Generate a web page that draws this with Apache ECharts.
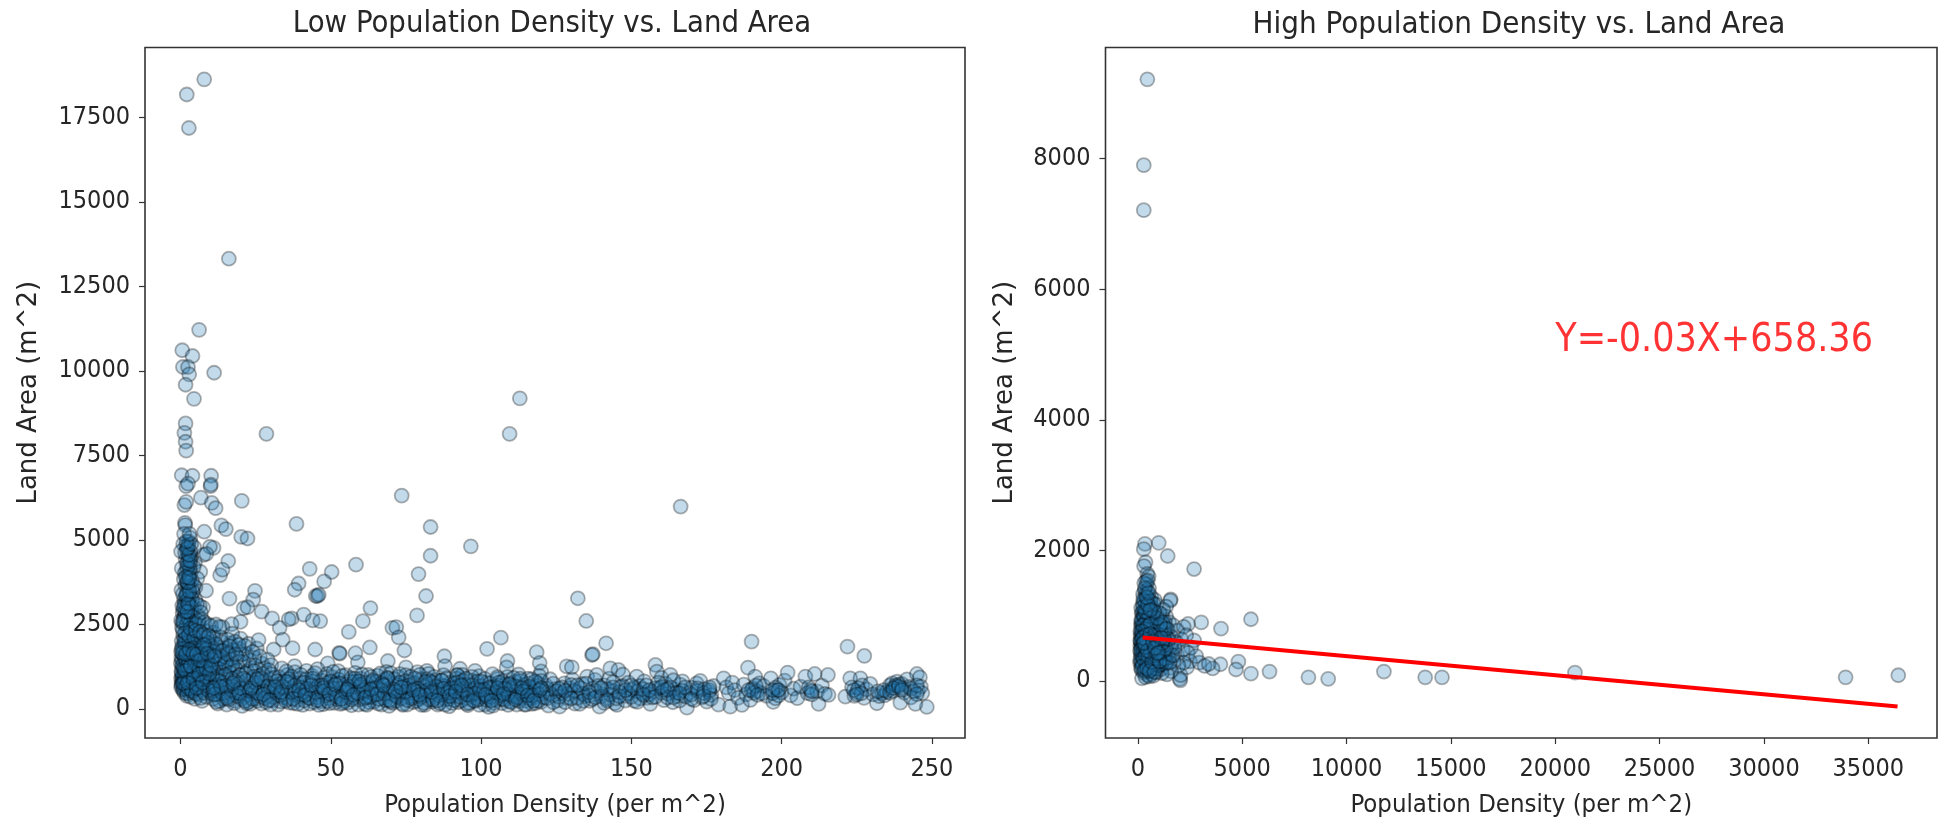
<!DOCTYPE html>
<html><head><meta charset="utf-8">
<style>html,body{margin:0;padding:0;background:#fff}#c{width:1939px;height:820px;filter:blur(0.45px)}</style>
<script src="https://cdn.jsdelivr.net/npm/echarts@6/dist/echarts.min.js"></script>
</head><body><div id="c"></div>
<script>
const titles = ["Low Population Density vs. Land Area", "High Population Density vs. Land Area"];
const xName = "Population Density (per m^2)";
const yName = "Land Area (m^2)";
const lowXTicks = [0, 50, 100, 150, 200, 250];
const lowYTicks = [0, 2500, 5000, 7500, 10000, 12500, 15000, 17500];
const highXTicks = [0, 5000, 10000, 15000, 20000, 25000, 30000, 35000];
const highYTicks = [0, 2000, 4000, 6000, 8000];
const fitLabel = "Y=-0.03X+658.36";
const fitLine = [[230, 665], [36400, -390]];
const fitLabelAt = [[20000, 5000]];

const lowOutliers = [[7.9,18626],[2.1,18177],[2.8,17187],[16.1,13320],[6.2,11216],[0.6,10612],[4,10442],[0.8,10117],[2.5,10117],[2.9,9900],[11.2,9947],[1.7,9591],[4.5,9174],[112.9,9190],[1.7,8447],[28.6,8137],[109.5,8137],[1.3,8168],[1.7,7905],[1.9,7642],[166.4,5987],[73.6,6312],[0.4,6915],[4,6900],[10.2,6900],[1.9,6590],[10,6590],[10.1,6640],[2.5,6667],[6.8,6250],[20.4,6157],[10.4,6095],[11.7,5940],[1.3,6033],[1.9,6126],[13.6,5430],[15.1,5322],[1.5,5507],[1.6,5440],[7.9,5244],[20.2,5090],[22.3,5043],[38.6,5476],[83.2,5383],[96.6,4811],[83.2,4533],[58.4,4270],[43,4146],[50.3,4053],[47.8,3775],[79.2,3991],[39.3,3713],[38,3527],[45,3342],[45.6,3342],[46,3380],[81.7,3342],[132.2,3275],[135,2604],[63.2,2986],[60.7,2599],[78.7,2769],[24.8,3496],[24.2,3233],[16.3,3264],[13.2,3960],[15.9,4378],[14,4120],[11,4765],[9.8,4800],[7.7,4560],[8.6,4590],[4.8,4330],[6.6,4060],[3.2,4300],[8.5,3500],[7.5,3000],[21,2980],[22.3,3010],[27,2880],[30.5,2680],[37,2680],[36,2650],[41,2790],[44,2620],[46.5,2600],[33,2400],[34,2050],[37.3,1800],[44.8,1760],[52.8,1660],[53,1640],[58.2,1650],[56,2280],[63,1820],[70.5,2400],[71.8,2420],[72.6,2120],[74.5,1730],[69,1420],[75,1230],[87.8,1560],[88,1270],[102,1780],[106.6,2110],[108.8,1420],[108.5,1230],[118.5,1680],[119.5,1360],[120,1110],[128.5,1260],[141.6,1944],[136.9,1598],[137.2,1620],[130.2,1234],[190,1993],[188.8,1224],[221.9,1845],[227.5,1569],[248.3,60],[93,1190],[98,1130],[20,2580],[17,2510],[31,1760],[38,1270],[49,1350],[59,1380],[68.5,1100],[82,1130],[92,1000]];

const lowCorner = [[0.2,900],[0.3,760],[0.4,1050],[0.2,640],[0.6,820],[0.8,560],[0.5,1240],[1,700],[1.1,950],[1.3,480],[1.4,1120],[1.6,610],[1.8,830],[2,1010],[2.1,390],[2.3,720],[2.5,540],[2.7,900],[2.9,1180],[3.2,650],[3.4,360],[3.6,800],[3.9,1010],[4.1,500],[4.4,680],[4.8,300],[5,880],[5.3,1170],[5.6,590],[6,420],[6.3,760],[6.8,1000],[7.2,240],[7.5,560],[8.1,830],[8.6,360],[9,1140],[9.5,650],[10.2,480],[11,920],[0.1,1360],[0.3,1520],[0.2,1690],[0.6,1850],[0.4,2010],[0.9,2180],[1.1,1420],[1.3,1600],[1.5,1780],[1.7,1960],[2,2140],[2.3,2340],[2.6,1500],[2.8,1690],[3.1,1880],[3.4,2060],[3.7,2260],[4,2460],[4.3,1380],[4.7,1600],[5,1820],[5.4,2020],[5.8,2240],[6.2,2480],[6.6,1340],[7,1540],[7.5,1780],[8,2030],[8.4,2300],[9,1290],[9.4,1520],[10,1750],[10.6,1990],[11,2260],[11.8,1230],[12.4,1460],[13,1700],[13.6,1980],[14,2420],[14.8,1160],[15.4,1420],[16,1680],[16.6,1940],[17.2,2230],[18,1250],[18.8,1510],[19.5,1780],[20,2080],[21,1390],[21.8,1640],[22.6,1930],[23.4,1210],[24.6,1520],[25.4,1790],[26,2040],[27.2,1340],[0.5,2400],[0.2,2620],[0.7,2840],[1,2540],[0.6,3060],[1.2,3240],[0.3,3520],[1.5,2760],[1.8,2980],[2,3200],[2.2,3440],[1.6,3660],[2.4,3860],[1.9,4060],[2.7,2620],[3,2860],[3.2,3080],[3.5,3320],[3.8,3560],[3.1,3780],[3.4,4010],[2.6,4240],[4.2,2740],[4.6,3000],[4.9,3240],[5,3600],[1.7,4420],[2.3,4610],[3.6,4520],[1.8,4830],[2.8,4950],[3.3,5060],[1.2,5180],[0.9,4880],[0.2,4660],[4.6,4780],[0.4,4160],[5.8,2760],[6.4,3050],[7.2,2650],[5.6,3860],[4.4,4200],[3,4480],[1.4,4020],[2.4,3640],[2.9,3380],[1.1,3840]];

const lowCornerExtra = [[0.7,980],[0.9,1130],[1.2,860],[1.5,1010],[1.9,1240],[2.2,870],[2.6,1090],[3,760],[3.3,960],[3.7,1140],[4,610],[4.5,1060],[4.9,720],[5.5,980],[6,1120],[6.5,860],[7,1260],[7.8,700],[8.3,1050],[8.9,900],[9.6,1240],[10.4,760],[11.3,1080],[12,580],[0.5,1450],[0.8,1620],[1,1790],[1.3,1950],[1.6,2100],[1.9,1350],[2.2,1550],[2.5,1840],[2.9,2020],[3.2,1430],[3.6,1720],[3.9,1980],[4.2,2200],[4.5,1490],[4.9,1700],[5.2,1930],[5.6,1290],[6,1640],[6.4,1880],[6.9,2120],[7.3,1410],[7.8,1660],[8.2,1910],[8.7,2130],[9.2,1400],[9.7,1630],[10.3,1850],[10.9,2120],[11.5,1350],[12.1,1580],[12.7,1820],[13.4,2120],[14.1,1270],[14.7,1540],[15.2,1800],[15.8,2050],[16.3,1230],[17,1480],[17.5,1750],[18.2,1990],[19,1150],[19.8,1400],[20.6,1620],[21.4,1870],[22.2,1120],[23,1440],[24,1690],[25,1280],[26.4,1560],[28,1200],[29,1460],[30.2,1300],[0.6,2560],[1.2,2700],[0.9,2950],[1.4,3120],[1.7,3340],[0.8,3400],[2.1,2500],[2.4,2720],[2.5,3050],[2.7,3260],[2.9,3600],[3.2,2520],[3.5,2780],[3.7,3000],[3.9,3240],[4.1,3460],[2.1,3760],[2.8,3980],[2.2,4180],[3.1,4150],[2.5,4400],[3.3,4660],[2.1,4720],[2.6,4840],[1.5,4620],[3.8,3800],[4.4,3650],[4.7,2560],[5.2,2520],[5.5,3100],[6.1,2600],[6.8,2860],[8,2560],[9.2,2500],[10.2,2460],[11.8,2500],[13,2430]];

const lowCornerThird = [[0.4,700],[0.6,930],[1,590],[1.2,780],[1.5,900],[1.9,680],[2.2,460],[2.4,960],[2.8,610],[3.1,840],[3.5,1060],[3.8,540],[4.2,780],[4.6,960],[5.1,450],[5.4,740],[5.9,1000],[6.2,630],[6.7,330],[7.2,880],[7.9,480],[8.4,960],[9.2,560],[9.9,840],[10.8,420],[11.4,700],[12.3,1000],[0.3,1120],[0.7,1300],[1.1,1210],[1.4,1520],[1.8,1440],[2.1,1680],[2.4,1260],[2.7,1400],[3,1590],[3.5,1270],[3.8,1540],[4.1,1800],[4.4,1120],[4.8,1330],[5.1,1560],[5.5,1760],[5.9,1440],[6.3,1190],[6.7,1620],[7.1,1840],[7.6,1220],[8.1,1500],[8.6,1770],[9.1,1960],[9.8,1180],[10.5,1460],[11.1,1700],[11.8,1920],[12.6,1200],[13.3,1480],[14,1720],[14.9,1360],[15.6,1620],[16.4,1860],[17.3,1300],[18.4,1620],[19.4,1900],[0.4,1780],[1.2,2050],[0.8,2320],[1.6,2260],[2.7,2180],[3.3,2380],[4.6,2100],[5.1,2320],[6.5,2280],[7.7,2200],[9.5,2160],[0.9,2620],[1.6,2880],[1.2,3020],[2.3,2880],[2,3380],[2.6,3120],[3,3480],[2.4,3740],[1.8,3900],[2.9,3880],[2.2,4320],[3.2,4380],[2.8,4560],[2.4,4760],[3.6,4880],[2,4960],[3,5180]];

const lowBand = [[12.4,160],[12.8,430],[13.2,720],[13.8,960],[14.3,300],[14.9,590],[15.4,130],[15.9,860],[16.5,1060],[17,420],[17.6,680],[18.1,240],[18.7,940],[19.3,510],[19.9,770],[20.5,90],[21,360],[21.7,1050],[22.2,620],[22.8,210],[23.4,860],[24,470],[24.6,1120],[25.2,300],[25.8,700],[26.3,980],[26.9,160],[27.6,540],[28.2,840],[28.8,380],[29.4,1150],[30,640],[30.7,250],[31.3,930],[31.9,480],[32.5,130],[33,740],[33.7,1200],[34.3,340],[35,580],[35.6,1010],[36.2,190],[36.9,800],[37.5,450],[38.1,1090],[38.8,270],[39.4,650],[40,900],[40.7,120],[41.3,520],[41.9,1130],[42.5,340],[43.1,760],[43.8,980],[44.4,200],[45,600],[45.6,1180],[46.2,420],[46.9,840],[47.5,140],[48.1,700],[48.8,1040],[49.4,310],[50,550],[50.6,940],[51.3,180],[51.9,770],[52.5,1120],[53.1,440],[53.8,620],[54.4,230],[55,1000],[55.6,350],[56.2,820],[56.9,110],[57.5,560],[58.1,1070],[58.8,720],[59.4,280],[60,900],[60.6,470],[61.3,150],[61.9,640],[62.5,1010],[63.1,380],[63.8,800],[64.4,220],[65,520],[65.6,980],[66.3,690],[66.9,130],[67.5,330],[68.1,860],[68.8,580],[69.4,90],[70,1060],[70.6,440],[71.3,750],[71.9,240],[72.5,950],[73.1,540],[73.8,160],[74.4,680],[75,1000],[75.6,350],[76.3,810],[76.9,470],[77.5,200],[78.1,620],[78.8,1090],[79.4,290],[80,880],[80.6,530],[81.3,120],[81.9,710],[82.5,1040],[83.1,390],[83.8,220],[84.4,580],[85,850],[85.6,130],[86.3,460],[86.9,700],[87.5,1000],[88.1,280],[88.8,560],[89.4,80],[90,790],[90.6,380],[91.3,640],[91.9,900],[92.5,200],[93.1,490],[93.8,1010],[94.4,720],[95,310],[95.6,110],[96.3,590],[96.9,840],[97.5,430],[98.1,230],[98.8,680],[99.4,970],[100,370],[100.6,540],[101.3,130],[101.9,780],[102.5,60],[103.1,450],[103.8,1030],[104.4,660],[105,270],[105.6,890],[106.3,510],[106.9,170],[107.5,380],[108.1,740],[108.8,950],[109.4,230],[110,610],[110.6,420],[111.3,810],[111.9,130],[112.5,1020],[113.1,330],[113.8,540],[114.4,720],[115,240],[115.6,900],[116.3,450],[116.9,150],[117.5,640],[118.1,350],[118.8,770],[119.4,980],[120,210],[120.8,520],[121.6,690],[122.4,100],[123,880],[123.8,400],[124.6,590],[125.4,250],[126.1,70],[127,470],[127.7,760],[128.6,330],[129.5,620],[130.4,870],[131.2,160],[132.1,500],[132.8,150],[133.7,740],[134.6,380],[135.3,960],[136.2,240],[137,600],[137.9,860],[138.5,1007],[139.4,70],[140.1,450],[141,700],[141.8,310],[142.6,900],[143,1204],[143.8,540],[144.5,170],[145.2,120],[145.7,1155],[146.4,650],[147.2,1020],[148,390],[149,780],[150,570],[151,240],[151.8,960],[152.7,680],[153.5,470],[154.3,820],[155.1,330],[156.3,150],[157,510],[158,1303],[158.5,1105],[159.2,620],[160,920],[160.8,260],[161.4,750],[162.1,450],[163,1010],[163.8,200],[164.5,580],[165.4,380],[166.2,720],[167,820],[168.5,40],[169.3,480],[170.1,630],[170.9,260],[171.7,760],[172.9,830],[173.5,340],[174.3,590],[175.1,218],[175.9,500],[176.6,420],[177.4,680],[179,130],[180.7,908],[181.6,640],[182.4,470],[182.9,70],[183.6,780],[184.4,560],[185.5,330],[186.8,120],[187.4,720],[188.2,430],[189.6,267],[190.4,620],[191.2,958],[191.9,530],[192.6,760],[193.4,460],[194,680],[195,390],[196.4,908],[197.2,210],[197.9,317],[198.6,560],[199.3,710],[200,490],[201,840],[202,1076],[203,400],[204,600],[205.2,320],[206.3,660],[207.9,958],[208.6,470],[209.6,560],[211,1036],[211.8,520],[212.3,150],[213.4,690],[214.4,450],[215.4,1007],[215.6,415],[221.2,365],[222.8,908],[223.4,640],[224.2,390],[225,500],[226.2,908],[226.8,700],[227.4,330],[228.2,580],[229.5,741],[230.4,430],[231.7,170],[232.5,380],[233.4,470],[234.2,400],[235,510],[236,700],[236.8,760],[237.6,620],[238.4,810],[239.5,190],[240,740],[240.8,480],[241.7,879],[242.4,650],[243,340],[244.5,150],[245,1036],[245.4,560],[246,937],[246.3,660],[246.8,470]];

const lowBandExtra = [[10.8,300],[11.6,640],[12.2,860],[13,240],[13.6,520],[14.4,780],[15,1010],[15.8,380],[16.4,650],[17.2,900],[17.9,170],[18.5,480],[19.1,740],[19.8,1000],[20.4,300],[21.2,580],[21.9,840],[22.5,420],[23.2,150],[23.8,680],[24.4,960],[25,540],[25.6,240],[26.2,800],[26.8,380],[27.4,1040],[28,640],[28.6,200],[29.2,480],[29.8,880],[30.4,1030],[31,350],[31.6,710],[32.2,560],[32.8,940],[33.4,220],[34,440],[34.6,820],[35.2,1110],[35.8,300],[36.4,620],[37,960],[37.6,170],[38.2,520],[38.8,760],[39.4,380],[40,1010],[40.6,640],[41.2,250],[41.8,880],[42.4,460],[43,160],[43.6,570],[44.2,820],[44.8,1060],[45.4,340],[46,690],[46.6,230],[47.2,510],[47.8,930],[48.4,400],[49,780],[49.6,170],[50.2,640],[50.8,1100],[51.4,430],[52,290],[52.6,870],[53.2,150],[53.8,980],[54.4,520],[55,720],[55.6,190],[56.2,600],[56.8,910],[57.4,340],[58,820],[58.6,480],[59.2,130],[59.8,660],[60.4,1020],[61,300],[61.6,780],[62.2,520],[62.8,200],[63.4,950],[64,620],[64.6,420],[65.2,810],[65.8,160],[66.4,1050],[67,560],[67.6,710],[68.2,260],[68.8,930],[69.4,460],[70,620],[70.6,180],[71.2,880],[71.8,400],[72.4,700],[73,1030],[73.6,310],[74.2,500],[74.8,820],[75.4,130],[76,620],[76.6,960],[77.2,380],[77.8,760],[78.4,240],[79,520],[79.6,1010],[80.2,120],[80.8,680],[81.4,420],[82,880],[82.6,280],[83.2,600],[83.8,780],[84.4,950],[85,350],[85.6,540],[86.2,170],[86.8,840],[87.4,430],[88,670],[88.6,910],[89.2,300],[89.8,590],[90.4,180],[91,760],[91.6,470],[92.2,1000],[92.8,690],[93.4,250],[94,840],[94.6,530],[95.2,160],[95.8,720],[96.4,400],[97,950],[97.6,600],[98.2,330],[98.8,820],[99.4,120],[100,680],[100.6,460],[101.2,890],[101.8,270],[102.4,610],[103,760],[103.6,350],[104.2,180],[104.8,530],[105.4,940],[106,690],[106.6,410],[107.2,820],[107.8,270],[108.4,560],[109,120],[109.6,760],[110.2,390],[110.8,920],[111.4,510],[112,660],[112.6,240],[113.2,830],[113.8,440],[114.4,130],[115,610],[115.6,750],[116.2,310],[116.8,880],[117.4,520],[118,170],[118.6,680],[119.2,430],[120,830],[121,340],[122,600],[123,450],[124,750],[125,520],[126,360],[127,640],[128,200],[129,450],[130,710],[131,540],[132,330],[133,620],[134,450],[135,750],[136,400],[137,290],[138,540],[139,680],[140,370],[141,180],[142,590],[143,430],[144,790],[145,310],[146,500],[147,680],[148,250],[149,460],[150,360],[151,630],[152,520],[153,310],[154,590],[155,700],[156,430],[157,340],[158,620],[159,780],[160,480],[161,560],[162,340],[163,640],[164,850],[165,480],[166,250],[167,540],[168,370],[170,430],[172,540],[174,470],[176,560],[176.5,300],[190,560],[190.8,480],[191.4,690],[197,470],[198,630],[199,400],[209,640],[210,430],[224,560],[225.5,620],[226.5,460],[232,520],[234,560],[236,480],[237,540],[238,690],[239,720],[240,620],[243,600],[244,520],[245,700]];

const lowBandThird = [[11,540],[12,210],[13,820],[14,460],[15,680],[16,280],[17,560],[18,820],[19,380],[20,620],[21,900],[22,170],[23,540],[24,300],[25,780],[26,460],[27,900],[28,320],[29,670],[30,130],[31,560],[32,820],[33,400],[34,660],[35,240],[36,880],[37,500],[38,700],[39,150],[40,430],[41,780],[42,600],[43,320],[44,900],[45,480],[46,120],[47,700],[48,540],[49,230],[50,820],[51,600],[52,370],[53,760],[54,180],[55,500],[56,660],[57,280],[58,900],[59,470],[60,720],[61,560],[62,120],[63,350],[64,850],[65,620],[66,300],[67,760],[68,450],[69,900],[70,220],[71,580],[72,360],[73,780],[74,120],[75,510],[76,700],[77,320],[78,900],[79,600],[80,360],[81,180],[82,540],[83,820],[84,280],[85,660],[86,400],[87,840],[88,130],[89,480],[90,620],[91,260],[92,780],[93,360],[94,580],[95,900],[96,180],[97,700],[98,460],[99,280],[100,820],[101,570],[102,350],[103,640],[104,100],[105,480],[106,780],[107,300],[108,600],[109,440],[110,200],[111,680],[112,340],[113,900],[114,520],[115,130],[116,660],[117,400],[118,820],[119,240],[120,620],[122,320],[124,200],[126,600],[128,540],[130,310],[132,700],[134,240],[136,500],[138,340],[140,620],[142,250],[144,640],[146,380],[148,560],[150,690],[152,210],[154,420],[156,560],[158,360],[160,650],[162,580],[164,340],[166,470],[168,640],[170,300],[172,610],[174,380],[176,640],[189,560],[192,420],[197,560],[199,560],[210,520],[225,430],[237,620],[239,660],[240,560],[245,440]];

const lowBandFourth = [[11.5,430],[13.5,660],[15.5,320],[17.5,760],[19.5,460],[21.5,240],[23.5,620],[25.5,880],[27.5,430],[29.5,260],[31.5,650],[33.5,500],[35.5,800],[37.5,300],[39.5,560],[41.5,410],[43.5,700],[45.5,260],[47.5,620],[49.5,450],[51.5,720],[53.5,300],[55.5,580],[57.5,420],[59.5,820],[61.5,340],[63.5,580],[65.5,440],[67.5,700],[69.5,260],[71.5,520],[73.5,640],[75.5,260],[77.5,560],[79.5,420],[81.5,800],[83.5,500],[85.5,250],[87.5,600],[89.5,380],[91.5,520],[93.5,700],[95.5,430],[97.5,250],[99.5,560],[101.5,420],[103.5,250],[105.5,620],[107.5,450],[109.5,720],[111.5,280],[113.5,620],[115.5,400],[117.5,240],[119.5,560],[0.8,760],[1.6,1130],[2.4,780],[3.3,1270],[4.3,900],[5.3,620],[6.3,1040],[7.4,780],[8.5,1210],[9.7,1040],[10.9,620],[0.6,1660],[1.8,1620],[3,1760],[4.2,1640],[5.4,1620],[6.6,1440],[7.8,1900],[9,1640],[10.2,1290],[11.4,1560]];

const highPoints = [[459,9212],[287,7898],[287,7209],[344,2099],[1004,2115],[287,2019],[1434,1914],[2697,1714],[373,1818],[300,1760],[1578,1250],[1560,1230],[3041,897],[2410,873],[3988,801],[5422,945],[4820,296],[4705,176],[3959,256],[3586,192],[5422,112],[6312,144],[8177,56],[9123,32],[11792,144],[13771,56],[14575,56],[20944,128],[33912,56],[36436,88],[2008,32],[2040,10],[2050,90],[455,1640],[520,1600],[400,1530],[330,1380],[250,1330],[420,1480],[360,1250],[490,1200],[240,1180],[610,1150],[710,1120],[180,1040],[290,1080],[430,1020],[560,1060],[800,980],[1160,1020],[1360,990],[1500,900],[1250,870],[1050,930],[920,860],[760,880],[620,950],[480,900],[350,960],[210,920],[150,840],[270,780],[400,820],[540,780],[680,760],[1450,790],[1700,850],[1900,770],[2200,830],[2080,640],[2700,620],[2550,510],[2320,700],[1850,590],[1600,680],[1290,730],[1100,640],[950,700],[800,620],[640,680],[500,600],[360,690],[230,620],[130,700],[120,540],[200,480],[310,560],[430,510],[570,450],[720,530],[860,470],[1000,560],[1180,520],[1420,560],[1660,460],[1880,400],[2150,480],[2400,430],[2500,300],[2800,380],[2950,280],[2360,210],[3200,230],[3400,260],[2200,280],[1950,240],[1720,300],[1500,360],[1300,420],[1090,370],[900,330],[720,390],[560,320],[400,370],[260,420],[140,380],[110,280],[210,300],[340,250],[480,210],[620,260],[780,200],[940,240],[1120,180],[1300,260],[1530,200],[1600,150],[1400,100],[1150,120],[880,130],[660,110],[460,90],[280,130],[180,170],[200,40],[370,60],[560,70],[750,80],[320,850],[440,1110],[260,1000],[170,760],[380,660],[120,620],[240,500],[150,200],[330,440],[550,590],[710,290],[1000,810],[1280,610],[440,300],[300,730],[190,560],[640,400],[470,700],[1360,1140],[1220,1090],[900,1170],[640,1290],[380,1320],[820,1240]];

const highExtra = [[160,1120],[220,1040],[280,960],[340,1110],[400,1070],[460,980],[520,1130],[580,1010],[640,1100],[700,1000],[150,900],[200,860],[260,820],[320,900],[380,880],[440,840],[500,960],[560,900],[620,840],[680,920],[740,840],[120,760],[170,680],[230,720],[290,640],[350,740],[410,760],[470,640],[530,700],[590,640],[650,780],[710,690],[770,760],[830,700],[130,600],[180,520],[240,580],[300,500],[360,600],[420,560],[480,480],[540,540],[600,500],[660,590],[720,460],[780,560],[840,600],[900,540],[960,620],[1020,500],[110,460],[160,420],[220,380],[280,460],[340,360],[400,440],[460,340],[520,410],[580,380],[640,460],[700,340],[760,430],[820,380],[880,430],[940,480],[1000,360],[1060,440],[1120,400],[1180,340],[120,320],[180,290],[240,240],[300,330],[360,200],[420,260],[480,300],[540,240],[600,170],[660,220],[720,190],[780,310],[840,260],[900,190],[960,300],[1020,240],[1080,300],[1140,260],[1220,340],[1300,340],[1380,280],[1440,420],[1520,280],[1600,540],[1680,390],[1760,520],[1240,460],[1340,500],[1200,700],[1400,650],[1280,800],[1100,760],[1500,640],[1180,900],[1040,1040],[1300,900],[380,1180],[500,1270],[300,1230],[440,1380],[540,1420],[310,1500],[480,1540],[260,1250],[620,1220],[760,1180]];

const highThird = [[180,940],[300,1000],[420,920],[540,1000],[250,850],[370,790],[490,840],[610,880],[200,760],[310,690],[430,710],[550,650],[670,640],[790,700],[160,620],[270,540],[390,510],[510,550],[630,530],[750,620],[870,560],[150,480],[260,350],[380,390],[500,370],[620,430],[740,250],[860,390],[200,220],[320,160],[440,190],[560,150],[680,290],[800,140],[920,420],[1040,300],[1160,580],[1260,650],[1370,800],[1080,860],[930,960],[790,1060],[360,1060],[250,1130],[480,1170],[600,1090],[340,1420],[430,1280],[520,1350],[300,600],[350,520],[410,630],[460,460],[220,660],[280,580],[590,720],[720,600],[820,510],[980,430],[1120,660]];

const point = {color: 'rgba(31,119,180,0.34)', borderColor: 'rgba(0,0,0,0.38)', borderWidth: 1.8};
const textCol = '#262626';
const family = "'DejaVu Sans Condensed','DejaVu Sans',sans-serif";
const familyWide = "'DejaVu Sans',sans-serif";

function xAxis(idx, min, max, ticks) {
  return {type:'value', gridIndex:idx, min, max, name:xName, nameLocation:'middle', nameGap:54,
    nameTextStyle:{color:textCol,fontSize:25.5,fontFamily:family},
    splitLine:{show:false}, axisLine:{show:false,onZero:false},
    axisTick:{show:true,length:6,customValues:ticks,lineStyle:{color:'#333',width:1.2}},
    axisLabel:{color:textCol,fontSize:25,fontFamily:family,margin:19,customValues:ticks,formatter:v=>String(v)}};
}
function yAxis(idx, min, max, ticks, gap) {
  return {type:'value', gridIndex:idx, min, max, name:yName, nameLocation:'middle', nameGap:gap,
    nameTextStyle:{color:textCol,fontSize:26,fontFamily:familyWide},
    splitLine:{show:false}, axisLine:{show:false,onZero:false},
    axisTick:{show:true,length:6,customValues:ticks,lineStyle:{color:'#333',width:1.2}},
    axisLabel:{color:textCol,fontSize:25,fontFamily:family,margin:15,padding:[4,0,0,0],customValues:ticks,formatter:v=>String(v)}};
}

const chart = echarts.init(document.getElementById('c'), null, {renderer:'canvas'});
chart.setOption({
  animation:false, backgroundColor:'#fff',
  title:[
    {text:titles[0], left:547, top:4, textAlign:'center', textStyle:{color:textCol,fontSize:30.7,fontWeight:'normal',fontFamily:family}},
    {text:titles[1], left:1514, top:4, textAlign:'center', textStyle:{color:textCol,fontSize:31,fontWeight:'normal',fontFamily:family}}
  ],
  grid:[
    {left:145, top:47.5, width:820, height:690.5, outerBoundsMode:'none', show:true, borderColor:'#333', borderWidth:1.6, backgroundColor:'#fff'},
    {left:1105.5, top:47.5, width:831.5, height:690.5, outerBoundsMode:'none', show:true, borderColor:'#333', borderWidth:1.6, backgroundColor:'#fff'}
  ],
  xAxis:[xAxis(0,-11.8,261,lowXTicks), xAxis(1,-1547,38291,highXTicks)],
  yAxis:[yAxis(0,-858,19568,lowYTicks,103), yAxis(1,-873,9700,highYTicks,87)],
  series:[
    {type:'scatter',xAxisIndex:0,yAxisIndex:0,symbolSize:14,itemStyle:point,data:lowOutliers.concat(lowCorner,lowCornerExtra,lowCornerThird,lowBand,lowBandExtra,lowBandThird,lowBandFourth),large:false},
    {type:'scatter',xAxisIndex:1,yAxisIndex:1,symbolSize:14,itemStyle:point,data:highPoints.concat(highExtra,highThird),large:false},
    {type:'line',xAxisIndex:1,yAxisIndex:1,data:fitLine,symbol:'none',lineStyle:{color:'#ff0000',width:4},z:5},
    {type:'scatter',xAxisIndex:1,yAxisIndex:1,symbolSize:0,data:fitLabelAt,z:6,
      label:{show:true,position:[0,6],align:'left',verticalAlign:'bottom',formatter:fitLabel,color:'#ff0000',fontSize:39,fontFamily:family}}
  ]
});
</script></body></html>
